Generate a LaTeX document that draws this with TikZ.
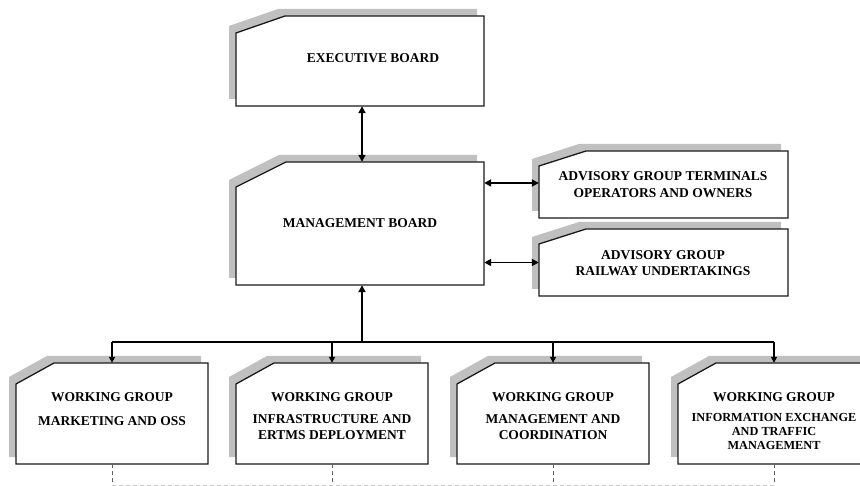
\documentclass[tikz,border=0pt]{standalone}
\usepackage{fontspec}
\setmainfont{Liberation Serif}
\usetikzlibrary{arrows.meta,fit}
\definecolor{shadowgray}{HTML}{C0C0C0}
\definecolor{boxc}{HTML}{1A1A1A}
\definecolor{dashv}{HTML}{606060}
\definecolor{dashh}{HTML}{C8C8C8}
\newcommand\lblfont{\bfseries\fontsize{13.5}{16.5}\selectfont}
\newcommand\smallfont{\bfseries\fontsize{12.3}{14.2}\selectfont}
% name, left, top, right, bottom, cut width, cut height
\newcommand\cutbox[7]{%
  \fill[fill=shadowgray] (#2-7,#3+#7-7) -- (#2+#6-7,#3-7) -- (#4-7,#3-7) -- (#4-7,#5-7) -- (#2-7,#5-7) -- cycle;
  \draw[boxline] (#2,#3+#7) -- (#2+#6,#3) -- (#4,#3) -- (#4,#5) -- (#2,#5) -- cycle;
  \node[fit={(#2,#3) (#4,#5)}, inner sep=0pt] (#1) {};
}
\begin{document}
\begin{tikzpicture}[x=1pt,y=-1pt,
  boxline/.style={draw=boxc, line width=1.3pt, fill=white, line join=miter},
  lbl/.style={font=\lblfont, align=center, inner sep=0pt, text=black},
  lblsmall/.style={font=\smallfont, align=center, inner sep=0pt, text=black},
  conn/.style={draw=black, line width=1.9pt},
  bus/.style={draw=black, line width=1.6pt},
  dbl/.style={conn, {Triangle[length=7pt,width=7pt]}-{Triangle[length=7pt,width=7pt]}},
  down/.style={bus, -{Triangle[length=6pt,width=6pt]}},
  up/.style={conn, -{Triangle[length=7pt,width=7pt]}},
  dv/.style={draw=dashv, line width=0.8pt, dash pattern=on 4pt off 3pt},
  dh/.style={draw=dashh, line width=0.8pt, dash pattern=on 4pt off 3pt}]
\useasboundingbox (0,0) rectangle (860,486);
\fill[white] (0,0) rectangle (860,486);
\clip (0,0) rectangle (860,486);

% boxes
\cutbox{eb}{236}{16}{484}{106}{49}{17}
\cutbox{mb}{236}{162}{484}{285}{50}{25}
\cutbox{a1}{539}{151}{788}{218}{47}{15}
\cutbox{a2}{539}{229}{788}{296}{47}{15}
\cutbox{wg1}{16}{363}{208}{464}{38}{21}
\cutbox{wg2}{236}{363}{428}{464}{38}{21}
\cutbox{wg3}{457}{363}{649}{464}{38}{21}
\cutbox{wg4}{678}{363}{870}{464}{38}{21}

% labels
\node[lbl] (ebt) at (373,58) {EXECUTIVE BOARD};
\node[lbl] (mbt) at (360,223) {MANAGEMENT BOARD};
\node[lbl] (a1t) at (663,184.5) {ADVISORY GROUP TERMINALS\\OPERATORS AND OWNERS};
\node[lbl] (a2t) at (663,263) {ADVISORY GROUP\\RAILWAY UNDERTAKINGS};
\node[lbl] (wg1t) at (112,397) {WORKING GROUP};
\node[lbl] (wg1b) at (112,421) {MARKETING AND OSS};
\node[lbl] (wg2t) at (332,397) {WORKING GROUP};
\node[lbl, anchor=north] (wg2b) at (332,414) {INFRASTRUCTURE AND\\ERTMS DEPLOYMENT};
\node[lbl] (wg3t) at (553,397) {WORKING GROUP};
\node[lbl, anchor=north] (wg3b) at (553,414) {MANAGEMENT AND\\COORDINATION};
\node[lbl] (wg4t) at (774,397) {WORKING GROUP};
\node[lblsmall, anchor=north] (wg4b) at (774,413) {INFORMATION EXCHANGE\\AND TRAFFIC\\MANAGEMENT};

% connectors
\draw[dbl] ([xshift=2pt]eb.south) -- ([xshift=2pt]mb.north);
\coordinate (a1in) at ([yshift=1.5pt]a1.west);
\coordinate (a2in) at (a2.west);
\draw[dbl] (a1in -| mb.east) -- (a1in);
\draw[dbl] (a2in -| mb.east) -- (a2in);

\coordinate (busc) at (362,342);
\draw[up] (busc) -- (busc |- mb.south);
\draw[bus] (busc -| wg1.north) -- (busc -| wg4.north);
\draw[down] (busc -| wg1.north) -- (wg1.north);
\draw[down] (busc -| wg2.north) -- (wg2.north);
\draw[down] (busc -| wg3.north) -- (wg3.north);
\draw[down] (busc -| wg4.north) -- (wg4.north);

% dashed lines below
\coordinate (base) at (0,485);
\draw[dh] (base -| wg1.south) -- (base -| wg4.south);
\draw[dv] (wg1.south) -- (base -| wg1.south);
\draw[dv] (wg2.south) -- (base -| wg2.south);
\draw[dv] (wg3.south) -- (base -| wg3.south);
\draw[dv] (wg4.south) -- (base -| wg4.south);
\end{tikzpicture}
\end{document}
